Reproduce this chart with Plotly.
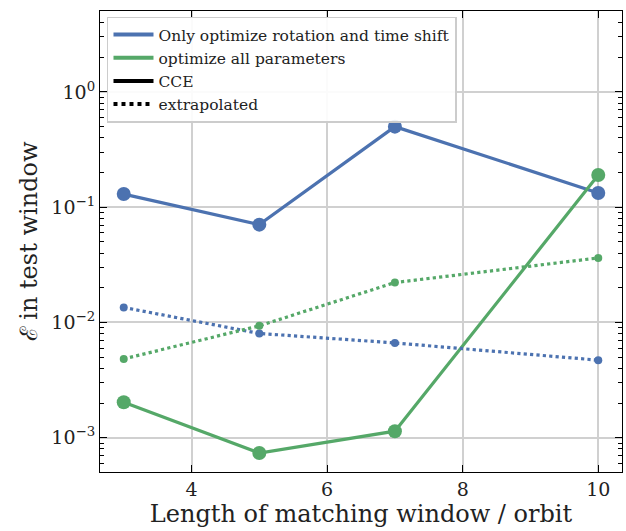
import plotly.graph_objects as go

# Matching window length (orbits)
window_len = [3, 5, 7, 10]

# Error in the test window, CCE waveforms
cce_rot_shift = [0.130, 0.0706, 0.50, 0.133]
cce_all_params = [0.00203, 0.000737, 0.00114, 0.19]

# Error in the test window, extrapolated waveforms
extrap_rot_shift = [0.0135, 0.00803, 0.00665, 0.00471]
extrap_all_params = [0.00483, 0.00935, 0.0222, 0.0363]

legend_labels = ["Only optimize rotation and time shift", "optimize all parameters",
                 "CCE", "extrapolated"]

y_tickvals = [1e-3, 1e-2, 1e-1, 1]
y_ticktext = ["10<sup>−3</sup>", "10<sup>−2</sup>", "10<sup>−1</sup>", "10<sup>0</sup>"]

BLUE = "#4C72B0"
GREEN = "#55A868"
FONT = "DejaVu Serif"

fig = go.Figure()

# data curves
for y, color, dash, msize in [
    (cce_rot_shift, BLUE, "solid", 14),
    (cce_all_params, GREEN, "solid", 14),
    (extrap_rot_shift, BLUE, "dot", 8),
    (extrap_all_params, GREEN, "dot", 8),
]:
    fig.add_trace(go.Scatter(
        x=window_len, y=y, mode="lines+markers",
        line=dict(color=color, width=3.2, dash=dash),
        marker=dict(color=color, size=msize),
        showlegend=False, hoverinfo="skip"))

# legend entries
for name, color, dash in [
    (legend_labels[0], BLUE, "solid"),
    (legend_labels[1], GREEN, "solid"),
    (legend_labels[2], "black", "solid"),
    (legend_labels[3], "black", "dot"),
]:
    fig.add_trace(go.Scatter(
        x=[None], y=[None], mode="lines", name=name,
        line=dict(color=color, width=4, dash=dash)))

axis_common = dict(
    showline=True, linecolor="black", linewidth=1.2, mirror="allticks",
    ticks="inside", tickcolor="black", tickwidth=1.2, ticklen=7,
    showgrid=True, gridcolor="#d0d0d0", gridwidth=1.5, zeroline=False,
    tickfont=dict(family=FONT, size=19, color="#222"),
)

fig.update_xaxes(
    **axis_common,
    range=[2.65, 10.35], tickmode="linear", tick0=0, dtick=2,
    title=dict(text="Length of matching window / orbit",
               font=dict(family=FONT, size=24, color="#222"), standoff=5),
)
fig.update_yaxes(
    **axis_common,
    type="log", range=[-3.297, 0.702], tickmode="array",
    tickvals=y_tickvals, ticktext=y_ticktext,
    minor=dict(ticks="inside", ticklen=4, tickcolor="black", tickwidth=1,
               dtick="D1", showgrid=False),
    title=dict(text="ℰ in test window",
               font=dict(family=FONT, size=24, color="#222"), standoff=6),
)

fig.update_layout(
    width=626, height=531,
    margin=dict(l=100, r=4, t=11, b=59),
    plot_bgcolor="white", paper_bgcolor="white",
    showlegend=True,
    legend=dict(
        x=0.0134, y=0.988, xanchor="left", yanchor="top",
        bgcolor="rgba(255,255,255,0.9)", bordercolor="#cccccc", borderwidth=1.5,
        font=dict(family=FONT, size=15.5, color="#222"),
        tracegroupgap=0, itemwidth=40,
    ),
)

fig.write_html("out.html")
